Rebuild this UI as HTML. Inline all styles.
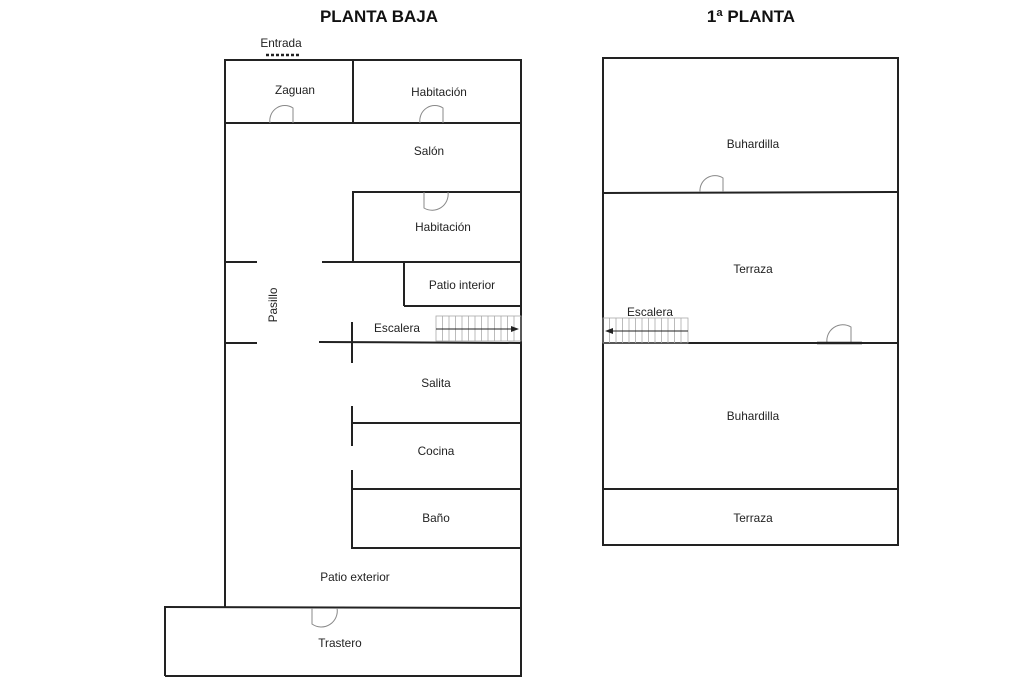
<!DOCTYPE html>
<html>
<head>
<meta charset="utf-8">
<style>
html,body{margin:0;padding:0;background:#fff;}
svg{display:block;}
text{font-family:"Liberation Sans","DejaVu Sans",sans-serif;font-size:11.8px;fill:#222;}
.t{font-size:17px;font-weight:bold;fill:#111;}
.w{stroke:#222;stroke-width:2;fill:none;}
.d{stroke:#888;stroke-width:1;fill:none;}
.s{stroke:#aaa;stroke-width:0.8;fill:none;}
</style>
</head>
<body>
<svg width="1024" height="683" viewBox="0 0 1024 683" xmlns="http://www.w3.org/2000/svg">
<!-- Titles -->
<text class="t" x="379" y="22" text-anchor="middle">PLANTA BAJA</text>
<text class="t" x="751" y="22" text-anchor="middle">1ª PLANTA</text>

<!-- ===== PLANTA BAJA ===== -->
<text x="281" y="47" text-anchor="middle">Entrada</text>
<line x1="266" y1="55" x2="300" y2="55" stroke="#222" stroke-width="2.5" stroke-dasharray="3,2"/>

<!-- outer walls -->
<line class="w" x1="225" y1="60" x2="521" y2="60"/>
<line class="w" x1="225" y1="59" x2="225" y2="608"/>
<line class="w" x1="521" y1="59" x2="521" y2="677"/>
<!-- zaguan / habitacion -->
<line class="w" x1="353" y1="60" x2="353" y2="123"/>
<line class="w" x1="225" y1="123" x2="521" y2="123"/>
<!-- habitacion 2 -->
<line class="w" x1="353" y1="192" x2="521" y2="192"/>
<line class="w" x1="353" y1="191" x2="353" y2="262"/>
<line class="w" x1="225" y1="262" x2="257" y2="262"/>
<line class="w" x1="322" y1="262" x2="521" y2="262"/>
<!-- patio interior -->
<line class="w" x1="404" y1="262" x2="404" y2="306"/>
<line class="w" x1="404" y1="306" x2="521" y2="306"/>
<!-- pasillo lower -->
<line class="w" x1="225" y1="343" x2="257" y2="343"/>
<line class="w" x1="319" y1="342" x2="521" y2="343"/>
<line class="w" x1="352" y1="322" x2="352" y2="363"/>
<!-- stairs -->
<rect x="436" y="316" width="85" height="25" class="s"/>
<g class="s">
<line x1="442.5" y1="316" x2="442.5" y2="341"/>
<line x1="449" y1="316" x2="449" y2="341"/>
<line x1="455.5" y1="316" x2="455.5" y2="341"/>
<line x1="462" y1="316" x2="462" y2="341"/>
<line x1="468.5" y1="316" x2="468.5" y2="341"/>
<line x1="475" y1="316" x2="475" y2="341"/>
<line x1="481.5" y1="316" x2="481.5" y2="341"/>
<line x1="488" y1="316" x2="488" y2="341"/>
<line x1="494.5" y1="316" x2="494.5" y2="341"/>
<line x1="501" y1="316" x2="501" y2="341"/>
<line x1="507.5" y1="316" x2="507.5" y2="341"/>
<line x1="514" y1="316" x2="514" y2="341"/>
</g>
<line x1="436" y1="329" x2="512" y2="329" stroke="#222" stroke-width="1"/>
<polygon points="519,329 511,326 511,332" fill="#222"/>
<!-- salita / cocina / baño -->
<line class="w" x1="352" y1="406" x2="352" y2="446"/>
<line class="w" x1="352" y1="423" x2="521" y2="423"/>
<line class="w" x1="352" y1="470" x2="352" y2="549"/>
<line class="w" x1="352" y1="489" x2="521" y2="489"/>
<line class="w" x1="352" y1="548" x2="521" y2="548"/>
<!-- patio exterior / trastero -->
<line class="w" x1="165" y1="607" x2="521" y2="608"/>
<line class="w" x1="165" y1="606" x2="165" y2="676"/>
<line class="w" x1="165" y1="676" x2="521" y2="676"/>

<!-- doors -->
<path class="d" d="M293,123 L293,108 A15,15 0 0 0 270,123"/>
<path class="d" d="M443,123 L443,108 A15,15 0 0 0 420,123"/>
<path class="d" d="M424,192 L424,208 A16,16 0 0 0 448,192"/>
<path class="d" d="M312,608 L312,624 A16,16 0 0 0 337,608"/>

<!-- labels -->
<text x="295" y="94" text-anchor="middle">Zaguan</text>
<text x="439" y="96" text-anchor="middle">Habitación</text>
<text x="429" y="155" text-anchor="middle">Salón</text>
<text x="443" y="231" text-anchor="middle">Habitación</text>
<text x="462" y="289" text-anchor="middle">Patio interior</text>
<text x="397" y="332" text-anchor="middle">Escalera</text>
<text x="436" y="387" text-anchor="middle">Salita</text>
<text x="436" y="455" text-anchor="middle">Cocina</text>
<text x="436" y="522" text-anchor="middle">Baño</text>
<text x="355" y="581" text-anchor="middle">Patio exterior</text>
<text x="340" y="647" text-anchor="middle">Trastero</text>
<text x="0" y="0" text-anchor="middle" transform="translate(277,305) rotate(-90)">Pasillo</text>

<!-- ===== 1ª PLANTA ===== -->
<rect x="603" y="58" width="295" height="487" class="w"/>
<line class="w" x1="603" y1="193" x2="898" y2="192"/>
<line class="w" x1="603" y1="343" x2="898" y2="343"/>
<line class="w" x1="603" y1="489" x2="898" y2="489"/>
<!-- doors -->
<path class="d" d="M723,192 L723,178 A15,15 0 0 0 700,192"/>
<path class="d" d="M851,343 L851,327 A16,16 0 0 0 827,343"/>
<line x1="817" y1="343" x2="862" y2="343" stroke="#222" stroke-width="2.5"/>
<!-- stairs -->
<rect x="603" y="318" width="85" height="25" class="s"/>
<g class="s">
<line x1="609.5" y1="318" x2="609.5" y2="343"/>
<line x1="616" y1="318" x2="616" y2="343"/>
<line x1="622.5" y1="318" x2="622.5" y2="343"/>
<line x1="629" y1="318" x2="629" y2="343"/>
<line x1="635.5" y1="318" x2="635.5" y2="343"/>
<line x1="642" y1="318" x2="642" y2="343"/>
<line x1="648.5" y1="318" x2="648.5" y2="343"/>
<line x1="655" y1="318" x2="655" y2="343"/>
<line x1="661.5" y1="318" x2="661.5" y2="343"/>
<line x1="668" y1="318" x2="668" y2="343"/>
<line x1="674.5" y1="318" x2="674.5" y2="343"/>
<line x1="681" y1="318" x2="681" y2="343"/>
</g>
<line x1="612" y1="331" x2="688" y2="331" stroke="#222" stroke-width="1"/>
<polygon points="605,331 613,328 613,334" fill="#222"/>
<!-- labels -->
<text x="650" y="316" text-anchor="middle">Escalera</text>
<text x="753" y="148" text-anchor="middle">Buhardilla</text>
<text x="753" y="273" text-anchor="middle">Terraza</text>
<text x="753" y="420" text-anchor="middle">Buhardilla</text>
<text x="753" y="522" text-anchor="middle">Terraza</text>
</svg>
</body>
</html>
